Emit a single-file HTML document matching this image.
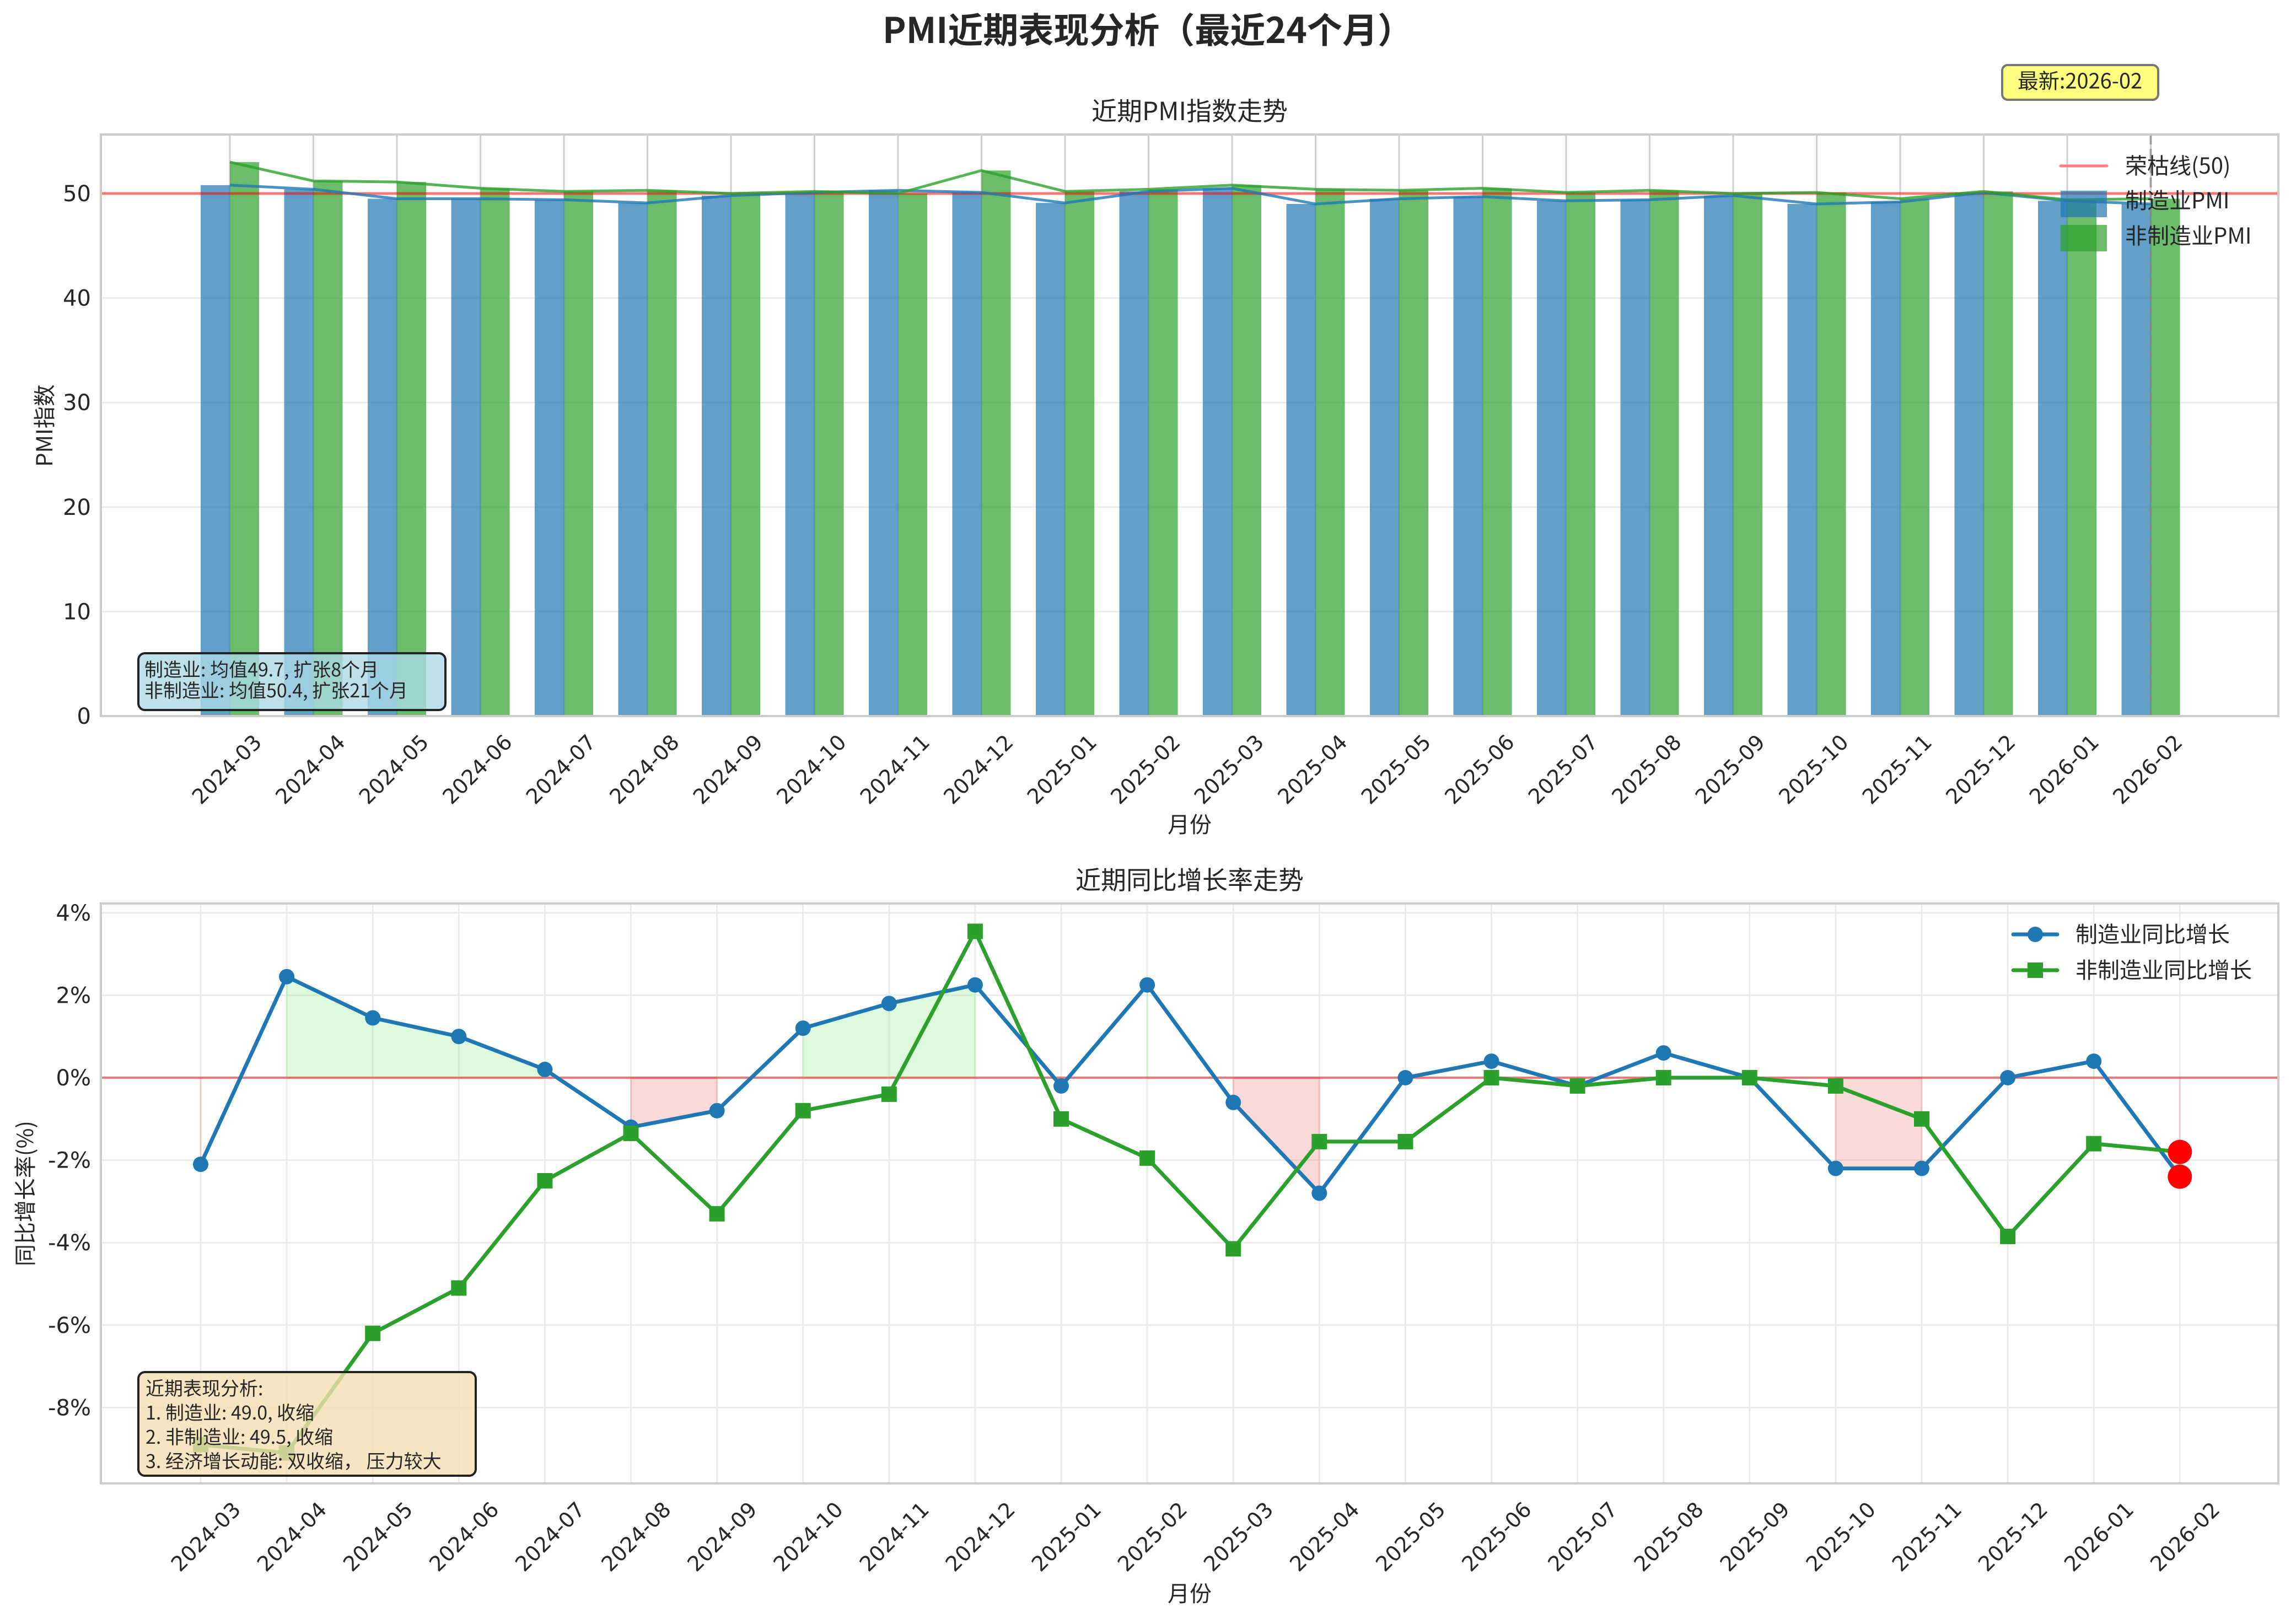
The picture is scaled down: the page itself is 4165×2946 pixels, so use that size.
<!DOCTYPE html>
<html><head><meta charset="utf-8"><style>
html,body{margin:0;padding:0;background:#fff;}
svg{display:block;}
text{font-family:"DejaVu Sans","Noto Sans CJK SC",sans-serif;fill:#262626;}
.cjk{font-family:"Noto Sans CJK SC","DejaVu Sans",sans-serif;}
</style></head><body>
<svg id="s" width="4165" height="2946" xmlns="http://www.w3.org/2000/svg"></svg>
<script>
var months=["2024-03","2024-04","2024-05","2024-06","2024-07","2024-08","2024-09","2024-10","2024-11","2024-12","2025-01","2025-02","2025-03","2025-04","2025-05","2025-06","2025-07","2025-08","2025-09","2025-10","2025-11","2025-12","2026-01","2026-02"];
var mfg=[50.8,50.4,49.5,49.5,49.4,49.1,49.8,50.1,50.3,50.1,49.1,50.2,50.5,49.0,49.5,49.7,49.3,49.4,49.8,49.0,49.2,50.1,49.3,49.0];
var non=[53.0,51.2,51.1,50.5,50.2,50.3,50.0,50.2,50.0,52.2,50.2,50.4,50.8,50.4,50.3,50.5,50.1,50.3,50.0,50.1,49.5,50.2,49.4,49.5];
var ym=[-2.1,2.45,1.45,1.0,0.2,-1.2,-0.8,1.2,1.8,2.25,-0.2,2.25,-0.6,-2.8,0.0,0.4,-0.2,0.6,0.0,-2.2,-2.2,0.0,0.4,-2.4];
var yn=[-8.9,-9.1,-6.2,-5.1,-2.5,-1.35,-3.3,-0.8,-0.4,3.55,-1.0,-1.95,-4.15,-1.55,-1.55,0.0,-0.2,0.0,0.0,-0.2,-1.0,-3.85,-1.6,-1.8];
var h='';
function t(x,y,s,sz,extra){return '<text x="'+x+'" y="'+y+'" font-size="'+sz+'" '+(extra||'')+'>'+s+'</text>';}
h+=t(2082,78,'PMI近期表现分析（最近24个月）',64,'text-anchor="middle" font-weight="bold" class="cjk"');
var L=183,R=4133,T=244,B=1299;
function tx(i){return 417+i*151.5;}
function ty(v){return B-v*18.96;}
h+=t(2158,218,'近期PMI指数走势',46,'text-anchor="middle" class="cjk"');
for(var v=0;v<=50;v+=10){h+='<line x1="'+L+'" x2="'+R+'" y1="'+ty(v)+'" y2="'+ty(v)+'" stroke="#ebebeb" stroke-width="3"/>';
h+=t(L-18,ty(v)+14,v,40,'text-anchor="end"');}
for(var i=0;i<24;i++){h+='<line x1="'+tx(i)+'" x2="'+tx(i)+'" y1="'+T+'" y2="'+B+'" stroke="#cfcfcf" stroke-width="3"/>';}
for(var i=0;i<24;i++){
 h+='<rect x="'+(tx(i)-53)+'" y="'+ty(mfg[i])+'" width="53" height="'+(B-ty(mfg[i]))+'" fill="#1f77b4" fill-opacity="0.7"/>';
 h+='<rect x="'+tx(i)+'" y="'+ty(non[i])+'" width="53" height="'+(B-ty(non[i]))+'" fill="#2ca02c" fill-opacity="0.7"/>';
}
h+='<line x1="'+L+'" x2="'+R+'" y1="'+ty(50)+'" y2="'+ty(50)+'" stroke="#ff0000" stroke-opacity="0.5" stroke-width="5"/>';
function pl(xs,ys,fx,fy){var p=[];for(var i=0;i<ys.length;i++)p.push(fx(i).toFixed(1)+','+fy(ys[i]).toFixed(1));return p.join(' ');}
h+='<polyline points="'+pl(0,mfg,tx,ty)+'" fill="none" stroke="#1f77b4" stroke-opacity="0.8" stroke-width="5"/>';
h+='<polyline points="'+pl(0,non,tx,ty)+'" fill="none" stroke="#2ca02c" stroke-opacity="0.8" stroke-width="5"/>';
h+='<line x1="'+tx(23)+'" x2="'+tx(23)+'" y1="'+T+'" y2="'+B+'" stroke="#888" stroke-opacity="0.7" stroke-width="4" stroke-dasharray="18,8"/>';
h+='<rect x="'+L+'" y="'+T+'" width="'+(R-L)+'" height="'+(B-T)+'" fill="none" stroke="#cccccc" stroke-width="4"/>';
for(var i=0;i<24;i++){var x=tx(i)+40,y=B+30;h+=t(x,y,months[i],38,'text-anchor="end" dominant-baseline="hanging" transform="rotate(-45 '+x+' '+y+')"');}
h+=t(2158,1510,'月份',40,'text-anchor="middle" class="cjk"');
h+=t(95,772,'PMI指数',40,'text-anchor="middle" class="cjk" transform="rotate(-90 95 772)"');
h+='<line x1="3738" x2="3822" y1="301" y2="301" stroke="#ff7f7f" stroke-width="5" stroke-linecap="round"/>';
h+=t(3855,315,'荣枯线(50)',40,'class="cjk"');
h+='<rect x="3738" y="346" width="84" height="48" fill="#1f77b4" fill-opacity="0.7"/>';
h+=t(3855,378,'制造业PMI',40,'class="cjk"');
h+='<rect x="3738" y="408" width="84" height="48" fill="#2ca02c" fill-opacity="0.7"/>';
h+=t(3855,442,'非制造业PMI',40,'class="cjk"');
h+='<rect x="251" y="1185" width="557" height="103" rx="12" fill="#add8e6" fill-opacity="0.8" stroke="#222" stroke-width="4"/>';
h+=t(262,1218,'制造业: 均值49.7, 扩张8个月',34,'dominant-baseline="middle" class="cjk"');
h+=t(262,1256,'非制造业: 均值50.4, 扩张21个月',34,'dominant-baseline="middle" class="cjk"');
h+='<rect x="3632" y="118" width="283" height="63" rx="10" fill="#ffff80" stroke="#777" stroke-width="4"/>';
h+=t(3773,150,'最新:2026-02',38,'text-anchor="middle" dominant-baseline="middle" class="cjk"');
var L2=183,R2=4133,T2=1639,B2=2691;
function bx(i){return 364+i*156.1;}
function by(v){return 1955-v*74.8;}
h+=t(2158,1613,'近期同比增长率走势',46,'text-anchor="middle" class="cjk"');
for(var v=-8;v<=4;v+=2){h+='<line x1="'+L2+'" x2="'+R2+'" y1="'+by(v)+'" y2="'+by(v)+'" stroke="#ebebeb" stroke-width="3"/>';
h+=t(L2-18,by(v)+14,(v<0?'-':'')+Math.abs(v)+'%',40,'text-anchor="end"');}
for(var i=0;i<24;i++){h+='<line x1="'+bx(i)+'" x2="'+bx(i)+'" y1="'+T2+'" y2="'+B2+'" stroke="#ebebeb" stroke-width="3"/>';}
function fill(a,b,col){var p=bx(a)+','+by(0);for(var i=a;i<=b;i++)p+=' '+bx(i)+','+by(ym[i]);p+=' '+bx(b)+','+by(0);
 h+='<polygon points="'+p+'" fill="'+col+'" fill-opacity="0.3" stroke="'+col+'" stroke-opacity="0.3" stroke-width="3"/>';}
var i=0;while(i<24){var s=ym[i]>0;if(ym[i]==0){i++;continue;}var j=i;while(j+1<24&&ym[j+1]!=0&&(ym[j+1]>0)==s)j++;fill(i,j,s?'#90ee90':'#f08080');i=j+1;}
h+='<line x1="'+L2+'" x2="'+R2+'" y1="'+by(0)+'" y2="'+by(0)+'" stroke="#ff0000" stroke-opacity="0.5" stroke-width="4"/>';
h+='<polyline points="'+pl(0,ym,bx,by)+'" fill="none" stroke="#1f77b4" stroke-width="7" stroke-linejoin="round"/>';
h+='<polyline points="'+pl(0,yn,bx,by)+'" fill="none" stroke="#2ca02c" stroke-width="7" stroke-linejoin="round"/>';
for(var i=0;i<24;i++){h+='<circle cx="'+bx(i)+'" cy="'+by(ym[i])+'" r="14" fill="#1f77b4"/>';
 h+='<rect x="'+(bx(i)-14)+'" y="'+(by(yn[i])-14)+'" width="28" height="28" fill="#2ca02c"/>';}
h+='<circle cx="'+bx(23)+'" cy="'+by(ym[23])+'" r="22" fill="#ff0000"/>';
h+='<circle cx="'+bx(23)+'" cy="'+by(yn[23])+'" r="22" fill="#ff0000"/>';
h+='<rect x="'+L2+'" y="'+T2+'" width="'+(R2-L2)+'" height="'+(B2-T2)+'" fill="none" stroke="#cccccc" stroke-width="4"/>';
for(var i=0;i<24;i++){var x=bx(i)+55,y=B2+30;h+=t(x,y,months[i],38,'text-anchor="end" dominant-baseline="hanging" transform="rotate(-45 '+x+' '+y+')"');}
h+=t(2158,2905,'月份',40,'text-anchor="middle" class="cjk"');
h+=t(60,2165,'同比增长率(%)',40,'text-anchor="middle" class="cjk" transform="rotate(-90 60 2165)"');
h+='<line x1="3652" x2="3732" y1="1695" y2="1695" stroke="#1f77b4" stroke-width="7" stroke-linecap="round"/><circle cx="3692" cy="1695" r="14" fill="#1f77b4"/>';
h+=t(3765,1709,'制造业同比增长',40,'class="cjk"');
h+='<line x1="3652" x2="3732" y1="1760" y2="1760" stroke="#2ca02c" stroke-width="7" stroke-linecap="round"/><rect x="3678" y="1746" width="28" height="28" fill="#2ca02c"/>';
h+=t(3765,1774,'非制造业同比增长',40,'class="cjk"');
h+='<rect x="251" y="2489" width="612" height="188" rx="12" fill="#f5deb3" fill-opacity="0.8" stroke="#222" stroke-width="4"/>';
var lines=['近期表现分析:','1. 制造业: 49.0, 收缩','2. 非制造业: 49.5, 收缩','3. 经济增长动能: 双收缩， 压力较大'];
for(var k=0;k<4;k++)h+=t(264,2522+k*44,lines[k],34,'dominant-baseline="middle" class="cjk"');
document.getElementById('s').innerHTML=h;
</script>
</body></html>
